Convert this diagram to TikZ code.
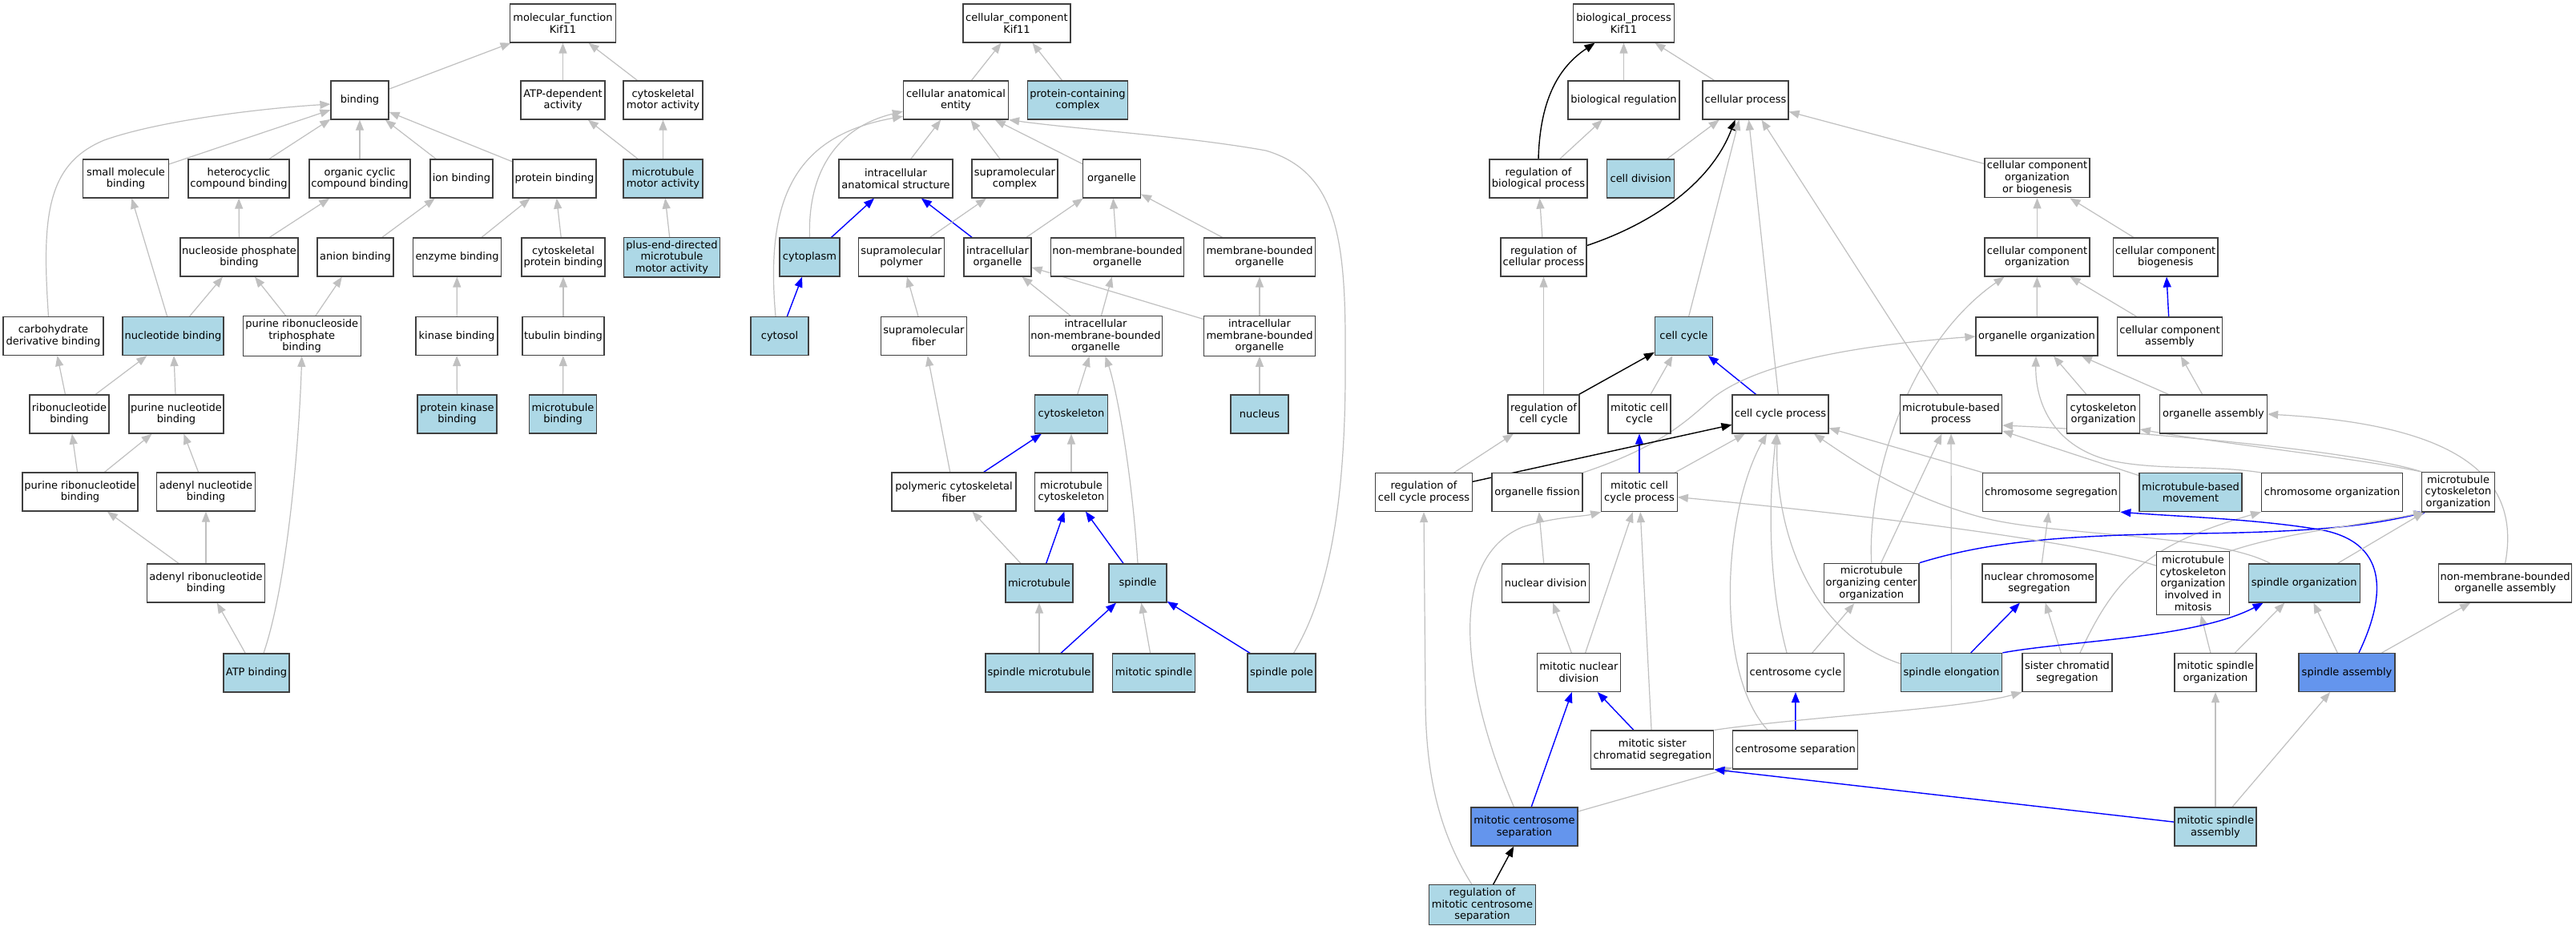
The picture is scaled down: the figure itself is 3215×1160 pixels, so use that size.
\documentclass[tikz,border=0pt]{standalone}
\usepackage{fontspec}
\setmainfont{DejaVu Sans}
\usetikzlibrary{arrows.meta}
\pgfdeclarelayer{bg}
\pgfsetlayers{bg,main}
\definecolor{eg}{HTML}{C0C0C0}
\definecolor{lb}{HTML}{ADD8E6}
\definecolor{cb}{HTML}{6495ED}
\definecolor{eb}{HTML}{0000FF}
\definecolor{bd}{HTML}{404040}
\newcommand{\gonode}[6]{\node[box,minimum width=#4pt,#5] (#1) at (#2,#3) {#6};}
\begin{document}
\begin{tikzpicture}[x=1pt,y=-1pt,
 box/.style={draw=bd, line width=1.2pt, rectangle, inner sep=0pt, minimum height=48pt, align=center, font=\fontsize{13}{14.8}\selectfont, fill=white},
 lblue/.style={fill=lb},
 cblue/.style={fill=cb},
 h3/.style={minimum height=49.5pt},
 h5/.style={minimum height=78.4pt},
 ge/.style={draw=eg, line width=1.2pt, -{Triangle[length=13pt,width=10pt]}},
 be/.style={draw=eb, line width=1.4pt, -{Triangle[length=13pt,width=10pt]}},
 ke/.style={draw=black, line width=1.4pt, -{Triangle[length=13pt,width=10pt]}},
]
\useasboundingbox (0,0) rectangle (3215,1160);
% ---------------- molecular function
\gonode{mf}{702.5}{29}{131.7}{}{molecular\_function\\Kif11}
\gonode{binding}{449}{125}{72}{}{binding}
\gonode{atpdep}{702.5}{125}{105}{}{ATP-dependent\\activity}
\gonode{cytomotor}{827.5}{125}{99}{}{cytoskeletal\\motor activity}
\gonode{smallmol}{157}{223}{107}{}{small molecule\\binding}
\gonode{hetero}{298}{223}{126}{}{heterocyclic\\compound binding}
\gonode{orgcyc}{449}{223}{126}{}{organic cyclic\\compound binding}
\gonode{ionb}{576}{223}{78}{}{ion binding}
\gonode{protb}{692}{223}{104}{}{protein binding}
\gonode{mtmotor}{827.5}{223}{99}{lblue}{microtubule\\motor activity}
\gonode{nucphos}{298.5}{321}{147}{}{nucleoside phosphate\\binding}
\gonode{anion}{443.5}{321}{95}{}{anion binding}
\gonode{enzyme}{570.5}{321}{110}{}{enzyme binding}
\gonode{cytoprot}{703}{321}{104}{}{cytoskeletal\\protein binding}
\gonode{plusend}{838.5}{321.3}{120.5}{lblue,h3}{plus-end-directed\\microtubule\\motor activity}
\gonode{carbo}{66.5}{419.5}{125}{}{carbohydrate\\derivative binding}
\gonode{nucleotide}{216}{419.5}{126}{lblue}{nucleotide binding}
\gonode{prtp}{376.7}{419.5}{147}{h3}{purine ribonucleoside\\triphosphate\\binding}
\gonode{kinase}{570}{419.5}{102}{}{kinase binding}
\gonode{tubulin}{703}{419.5}{102}{}{tubulin binding}
\gonode{ribo}{86.5}{517}{99}{}{ribonucleotide\\binding}
\gonode{purnuc}{220}{517}{118}{}{purine nucleotide\\binding}
\gonode{protkin}{570.5}{517}{99}{lblue}{protein kinase\\binding}
\gonode{mtbind}{702.5}{517}{84}{lblue}{microtubule\\binding}
\gonode{purribo}{100}{614}{144}{}{purine ribonucleotide\\binding}
\gonode{adenyl}{257}{614}{123}{}{adenyl nucleotide\\binding}
\gonode{adribo}{257}{728}{147}{}{adenyl ribonucleotide\\binding}
\gonode{atp}{320}{840}{82}{lblue}{ATP binding}
% ---------------- cellular component
\gonode{cc}{1269}{29}{134}{}{cellular\_component\\Kif11}
\gonode{cae}{1193}{125}{131}{}{cellular anatomical\\entity}
\gonode{pcc}{1345}{125}{125.5}{lblue}{protein-containing\\complex}
\gonode{ias}{1118}{223}{142}{}{intracellular\\anatomical structure}
\gonode{smc}{1266.5}{223}{107}{}{supramolecular\\complex}
\gonode{organelle}{1387.5}{223}{72}{}{organelle}
\gonode{cytoplasm}{1010.5}{321}{75}{lblue}{cytoplasm}
\gonode{smp}{1125}{321}{107}{}{supramolecular\\polymer}
\gonode{io}{1245}{321}{84}{}{intracellular\\organelle}
\gonode{nmbo}{1394.5}{321}{166}{}{non-membrane-bounded\\organelle}
\gonode{mbo}{1572}{321}{139}{}{membrane-bounded\\organelle}
\gonode{cytosol}{973}{419.5}{72}{lblue}{cytosol}
\gonode{smf}{1153}{419.5}{107}{}{supramolecular\\fiber}
\gonode{inmbo}{1367.5}{419.5}{166}{h3}{intracellular\\non-membrane-bounded\\organelle}
\gonode{imbo}{1572}{419.5}{139}{h3}{intracellular\\membrane-bounded\\organelle}
\gonode{cytoskeleton}{1337}{517}{91}{lblue}{cytoskeleton}
\gonode{nucleus}{1572}{517}{72}{lblue}{nucleus}
\gonode{pcf}{1190.5}{614}{155}{}{polymeric cytoskeletal\\fiber}
\gonode{mtcyto}{1337}{614}{91}{}{microtubule\\cytoskeleton}
\gonode{microtubule}{1297}{728}{84}{lblue}{microtubule}
\gonode{spindle}{1420}{728}{72}{lblue}{spindle}
\gonode{spmt}{1297}{840}{134}{lblue}{spindle microtubule}
\gonode{mitspindle}{1440}{840}{102.5}{lblue}{mitotic spindle}
\gonode{sppole}{1599.5}{840}{85}{lblue}{spindle pole}
% ---------------- biological process
\gonode{bp}{2026.5}{29}{126}{}{biological\_process\\Kif11}
\gonode{bioreg}{2026.5}{125}{139}{}{biological regulation}
\gonode{cellproc}{2178.5}{125}{107}{}{cellular process}
\gonode{regbio}{1920}{223}{122}{}{regulation of\\biological process}
\gonode{celldiv}{2047.7}{223}{84}{lblue}{cell division}
\gonode{cccob}{2542.5}{222}{131}{h3}{cellular component\\organization\\or biogenesis}
\gonode{regcell}{1926.5}{321}{107}{}{regulation of\\cellular process}
\gonode{ccorg}{2542.5}{321}{131}{}{cellular component\\organization}
\gonode{ccbio}{2702.7}{321}{130.5}{}{cellular component\\biogenesis}
\gonode{cellcycle}{2101.4}{419.5}{72}{lblue}{cell cycle}
\gonode{orgorg}{2542}{420}{152}{}{organelle organization}
\gonode{ccasm}{2708}{420}{131}{}{cellular component\\assembly}
\gonode{regcc}{1926.5}{517}{89}{}{regulation of\\cell cycle}
\gonode{mitcc}{2046}{517}{78}{}{mitotic cell\\cycle}
\gonode{ccp}{2222}{517}{120}{}{cell cycle process}
\gonode{mtbp}{2435}{517}{127}{}{microtubule-based\\process}
\gonode{cytoorg}{2625}{517}{90.5}{}{cytoskeleton\\organization}
\gonode{orgasm}{2762.5}{517}{134}{}{organelle assembly}
\gonode{regccp}{1777}{614.6}{121}{}{regulation of\\cell cycle process}
\gonode{orgfis}{1918.5}{614.6}{113}{}{organelle fission}
\gonode{mitccp}{2046}{614.6}{94.5}{}{mitotic cell\\cycle process}
\gonode{chromseg}{2560}{614.6}{171.5}{}{chromosome segregation}
\gonode{mtbm}{2734}{614.6}{128}{lblue}{microtubule-based\\movement}
\gonode{chromorg}{2910.6}{614.6}{176}{}{chromosome organization}
\gonode{mco}{3068}{614.3}{90.5}{h3}{microtubule\\cytoskeleton\\organization}
\gonode{nucdiv}{1929}{728}{109.5}{}{nuclear division}
\gonode{mtoc}{2335.7}{728}{118.5}{h3}{microtubule\\organizing center\\organization}
\gonode{ncs}{2545}{728}{142}{}{nuclear chromosome\\segregation}
\gonode{mcoim}{2737}{728}{90.5}{h5}{microtubule\\cytoskeleton\\organization\\involved in\\mitosis}
\gonode{sporg}{2875.7}{728}{139}{lblue}{spindle organization}
\gonode{nmboa}{3126.6}{728}{166}{}{non-membrane-bounded\\organelle assembly}
\gonode{mnd}{1970.4}{839.5}{104.5}{}{mitotic nuclear\\division}
\gonode{ccyc}{2241}{839.5}{121}{}{centrosome cycle}
\gonode{spel}{2435.5}{839.5}{126.5}{lblue}{spindle elongation}
\gonode{scs}{2580}{839.5}{112}{}{sister chromatid\\segregation}
\gonode{mso}{2765}{839.5}{102}{}{mitotic spindle\\organization}
\gonode{spasm}{2929}{839.5}{120}{cblue}{spindle assembly}
\gonode{mscs}{2062.3}{936}{153}{}{mitotic sister\\chromatid segregation}
\gonode{csep}{2240.8}{936}{156}{}{centrosome separation}
\gonode{mcs}{1902.5}{1032}{133}{cblue}{mitotic centrosome\\separation}
\gonode{msa}{2765}{1032}{102}{lblue}{mitotic spindle\\assembly}
\gonode{rmcs}{1850}{1129.5}{133}{lblue,h3}{regulation of\\mitotic centrosome\\separation}

\begin{pgfonlayer}{bg}
\fill[white] (0,0) rectangle (3215,1160);
% MF edges
\draw[ge] (binding) -- (mf);
\draw[ge] (atpdep) -- (mf);
\draw[ge] (cytomotor) -- (mf);
\draw[ge] (smallmol) -- (binding);
\draw[ge] (hetero) -- (binding);
\draw[ge] (orgcyc) -- (binding);
\draw[ge] (ionb) -- (binding);
\draw[ge] (protb) -- (binding);
\draw[ge] ([xshift=-6pt]carbo.north) .. controls (52,270) and (58,205) .. (130,175) .. controls (200,150) and (330,135) .. ([yshift=-5pt]binding.west);
\draw[ge] (mtmotor) -- (atpdep);
\draw[ge] (mtmotor) -- (cytomotor);
\draw[ge] (plusend) -- (mtmotor);
\draw[ge] (nucleotide) -- (smallmol);
\draw[ge] (nucphos) -- (hetero);
\draw[ge] (nucphos) -- (orgcyc);
\draw[ge] (anion) -- (ionb);
\draw[ge] (enzyme) -- (protb);
\draw[ge] (cytoprot) -- (protb);
\draw[ge] (nucleotide) -- (nucphos);
\draw[ge] (prtp) -- (nucphos);
\draw[ge] (prtp) -- (anion);
\draw[ge] (kinase) -- (enzyme);
\draw[ge] (tubulin) -- (cytoprot);
\draw[ge] (ribo) -- (carbo);
\draw[ge] (ribo) -- (nucleotide);
\draw[ge] (purnuc) -- (nucleotide);
\draw[ge] (protkin) -- (kinase);
\draw[ge] (mtbind) -- (tubulin);
\draw[ge] (purribo) -- (ribo);
\draw[ge] (purribo) -- (purnuc);
\draw[ge] (adenyl) -- (purnuc);
\draw[ge] (adribo) -- (purribo);
\draw[ge] (adribo) -- (adenyl);
\draw[ge] (atp) -- (adribo);
\draw[ge] ([xshift=9pt]atp.north) .. controls (358,730) and (373,560) .. (prtp.south);
% CC edges
\draw[ge] (cae) -- (cc);
\draw[ge] (pcc) -- (cc);
\draw[ge] (ias) -- (cae);
\draw[ge] (smc) -- (cae);
\draw[ge] (organelle) -- (cae);
\draw[ge] ([xshift=-5pt]cytosol.north) .. controls (955,250) and (990,170) .. (cae.197);
\draw[ge] (cytoplasm.north) .. controls (1008,220) and (1040,160) .. (cae.192);
\draw[ge] ([xshift=15pt]sppole.north) .. controls (1660,740) and (1680,620) .. (1679,450) .. controls (1680,300) and (1670,215) .. (1580,188) .. controls (1480,170) and (1350,162) .. (cae.south east);
\draw[be] (cytoplasm) -- (ias);
\draw[be] (io) -- (ias);
\draw[ge] (smp) -- (smc);
\draw[ge] (io) -- (organelle);
\draw[ge] (nmbo) -- (organelle);
\draw[ge] (mbo) -- (organelle);
\draw[be] (cytosol) -- (cytoplasm);
\draw[ge] (smf) -- (smp);
\draw[ge] (inmbo) -- (io);
\draw[ge] (inmbo) -- (nmbo);
\draw[ge] (imbo) -- (io);
\draw[ge] (imbo) -- (mbo);
\draw[ge] (cytoskeleton) -- (inmbo);
\draw[ge] (spindle.north) .. controls (1412,580) and (1392,480) .. ([xshift=12pt]inmbo.south);
\draw[ge] (nucleus) -- (imbo);
\draw[ge] (pcf) -- (smf);
\draw[be] (pcf) -- (cytoskeleton);
\draw[ge] (mtcyto) -- (cytoskeleton);
\draw[ge] (microtubule) -- (pcf);
\draw[be] (microtubule) -- (mtcyto);
\draw[be] (spindle) -- (mtcyto);
\draw[ge] (spmt) -- (microtubule);
\draw[be] (spmt) -- (spindle);
\draw[ge] (mitspindle) -- (spindle);
\draw[be] (sppole) -- (spindle);
% BP edges
\draw[ke] (regbio.north) .. controls (1922,120) and (1948,82) .. ([xshift=-36pt]bp.south);
\draw[ge] (bioreg) -- (bp);
\draw[ge] (cellproc) -- (bp);
\draw[ge] (regbio) -- (bioreg);
\draw[ge] (celldiv) -- (cellproc);
\draw[ke] (regcell.15) .. controls (2060,280) and (2135,230) .. ([xshift=-13pt]cellproc.south);
\draw[ge] (cellcycle) -- ([xshift=-8pt]cellproc.south);
\draw[ge] (ccp) -- ([xshift=4pt]cellproc.south);
\draw[ge] (mtbp) -- ([xshift=20pt]cellproc.south);
\draw[ge] (cccob) -- (cellproc);
\draw[ge] (regcell) -- (regbio);
\draw[ge] (regcc) -- (regcell);
\draw[ke] (regcc) -- (cellcycle);
\draw[ge] (mitcc) -- (cellcycle);
\draw[be] (ccp) -- (cellcycle);
\draw[ge] (ccorg) -- (cccob);
\draw[ge] (ccbio) -- (cccob);
\draw[ge] (orgorg) -- (ccorg);
\draw[ge] (ccasm) -- (ccorg);
\draw[be] (ccasm) -- (ccbio);
\draw[ge] (mtoc.north) .. controls (2330,600) and (2380,430) .. ([xshift=-41pt]ccorg.south);
\draw[ge] (orgfis.north east) .. controls (2080,555) and (2110,520) .. (2140,495) .. controls (2200,450) and (2330,430) .. (orgorg.west);
\draw[ge] (cytoorg) -- (orgorg);
\draw[ge] (orgasm) -- (orgorg);
\draw[ge] (chromorg.north west) .. controls (2760,580) and (2690,588) .. (2630,574) .. controls (2560,555) and (2540,500) .. ([xshift=-1pt]orgorg.south);
\draw[ge] (orgasm) -- (ccasm);
\draw[be] (mitccp) -- (mitcc);
\draw[ge] (regccp) -- (regcc);
\draw[ke] (regccp) -- (ccp);
\draw[ge] (mitccp) -- (ccp);
\draw[ge] (chromseg) -- (ccp);
\draw[ge] ([xshift=28pt]sporg.north west) .. controls (2760,665) and (2560,670) .. (2470,645) .. controls (2380,620) and (2320,580) .. ([xshift=42pt]ccp.south);
\draw[ge] ([xshift=44pt]csep.north west) .. controls (2140,840) and (2150,640) .. ([xshift=-17pt]ccp.south);
\draw[ge] ([xshift=-11pt]ccyc.north) .. controls (2205,720) and (2208,620) .. ([xshift=-5pt]ccp.south);
\draw[ge] ([yshift=11pt]spel.west) .. controls (2270,795) and (2215,680) .. ([xshift=-4pt]ccp.south);
\draw[ge] (mtbm) -- (mtbp);
\draw[ge] (spel) -- (mtbp);
\draw[ge] (mtoc) -- (mtbp);
\draw[ge] (mco.north west) .. controls (2950,565) and (2700,540) .. ([yshift=-14pt]mtbp.east);
\draw[ge] (mco.north west) .. controls (2930,570) and (2780,555) .. ([yshift=-19pt]cytoorg.east);
\draw[ge] (ncs) -- (chromseg);
\draw[be] (spel) -- (ncs);
\draw[ge] (scs) -- (ncs);
\draw[ge] ([xshift=16pt]scs.north) .. controls (2640,720) and (2680,680) .. (chromorg.south west);
\draw[be] (mtoc.north east) .. controls (2470,680) and (2550,668) .. (2740,666) .. controls (2900,664) and (2960,655) .. ([xshift=5pt]mco.south west);
\draw[be] ([xshift=15pt]spasm.north) .. controls (2975,750) and (2985,680) .. (2900,662) .. controls (2820,648) and (2720,645) .. (chromseg.south east);
\draw[ge] (spasm) -- (sporg);
\draw[ge] (spasm) -- (nmboa);
\draw[ge] (mso) -- (mcoim);
\draw[ge] (mso) -- (sporg);
\draw[ge] (msa) -- (mso);
\draw[ge] (msa) -- (spasm);
\draw[ge] (sporg) -- (mco);
\draw[ge] (mcoim.north east) .. controls (2850,665) and (2950,655) .. ([xshift=3pt]mco.south west);
\draw[ge] ([yshift=-18pt]mcoim.north west) .. controls (2600,677) and (2350,645) .. ([yshift=-6pt]mitccp.east);
\draw[ge] (nmboa.north) .. controls (3148,590) and (3060,530) .. (orgasm.east);
\draw[ge] (nucdiv) -- (orgfis);
\draw[ge] (mnd) -- (nucdiv);
\draw[ge] (mnd) -- (mitccp);
\draw[ge] (mscs) -- (mitccp);
\draw[be] (mcs) -- (mnd);
\draw[be] (mscs) -- (mnd);
\draw[ke] (rmcs) -- (mcs);
\draw[be] (csep) -- (ccyc);
\draw[ge] (ccyc) -- (mtoc);
\draw[ge] (mcs) -- (csep);
\draw[be] (msa) -- (mscs.south east);
\draw[ge] (mscs.north east) .. controls (2250,895) and (2450,885) .. (scs.south west);
\draw[ge] ([xshift=-13pt]mcs.north) .. controls (1830,870) and (1800,700) .. (1900,658) .. controls (1940,645) and (1975,645) .. (mitccp.south west);
\draw[ge] ([xshift=-13pt]rmcs.north) .. controls (1790,1030) and (1779,950) .. (1779,870) -- (regccp.south);
\draw[be] (spel.north east) .. controls (2580,800) and (2740,797) .. ([xshift=19pt]sporg.south west);
\end{pgfonlayer}
\end{tikzpicture}
\end{document}
